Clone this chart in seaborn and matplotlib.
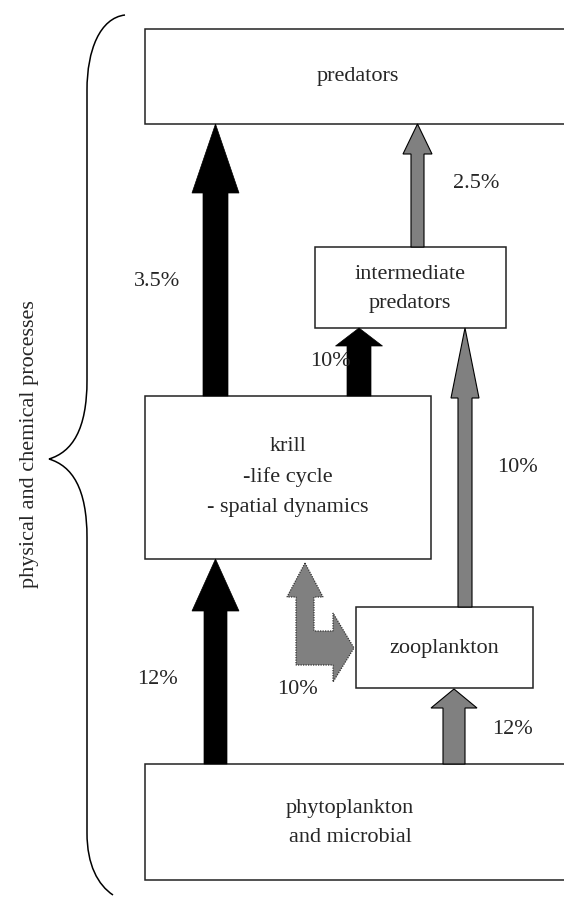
import matplotlib
matplotlib.use("Agg")
import matplotlib.pyplot as plt
import seaborn as sns
from matplotlib.patches import Rectangle, Polygon, PathPatch
from matplotlib.path import Path

# diagram content
box_names = ["predators", "intermediate\npredators", "krill\n-life cycle\n- spatial dynamics",
             "zooplankton", "phytoplankton\nand microbial"]
flow_labels = ["3.5%", "2.5%", "10%", "10%", "12%", "10%", "12%"]
side_label = "physical and chemical processes"

# layout in pixel units (x right, y down): left, top, right, bottom
box_rects = [(145, 29, 580, 124), (315, 247, 506, 328), (145, 396, 431, 559),
             (356, 607, 533, 688), (145, 764, 580, 880)]
box_text_pos = [(358, 76), (410, 289), (288, 477), (444, 648), (350, 823)]
flow_text_pos = [(157, 281), (476, 184), (330, 361), (517, 468), (157, 679), (297, 690), (512, 730)]

# straight up arrows: centre x, bottom y, tip y, shaft width, head width, head length, filled black?
up_arrows = [
    (215.5, 396, 124, 25, 47, 69, True),
    (359, 396, 328, 24, 47, 18, True),
    (215.5, 764, 559, 23, 47, 52, True),
    (417.5, 247, 124, 13, 29, 30, False),
    (465, 607, 328, 14, 28, 70, False),
    (454, 764, 689, 22, 46, 19, False),
]

W, H = 564, 897
sns.set_theme(style="white")
plt.rcParams["font.family"] = ["Liberation Serif", "DejaVu Serif"]

fig = plt.figure(figsize=(W / 100, H / 100), dpi=100)
ax = fig.add_axes([0, 0, 1, 1])
ax.set_xlim(0, W)
ax.set_ylim(H, 0)
ax.axis("off")

grey = "#808080"
fs = 16

for (l, t, r, b), name, (tx, ty) in zip(box_rects, box_names, box_text_pos):
    ax.add_patch(Rectangle((l, t), r - l, b - t, facecolor="white", edgecolor="#222222", lw=1.1, zorder=1))
    ax.text(tx, ty, name, ha="center", va="center", fontsize=fs, linespacing=1.75, zorder=3)


def up_arrow(cx, yb, yt, sw, hw, hl, black):
    hb = yt + hl
    pts = [(cx - sw / 2, yb), (cx - sw / 2, hb), (cx - hw / 2, hb), (cx, yt),
           (cx + hw / 2, hb), (cx + sw / 2, hb), (cx + sw / 2, yb)]
    if black:
        ax.add_patch(Polygon(pts, closed=True, facecolor="black", edgecolor="black", lw=0.5, zorder=2))
    else:
        ax.add_patch(Polygon(pts, closed=True, facecolor=grey, edgecolor="black", lw=0.8, zorder=2))


for a in up_arrows:
    up_arrow(*a)

# L-shaped dotted arrow krill <-> zooplankton
l_pts = [(305, 563), (323, 597), (314, 597), (314, 631), (333, 631), (333, 613), (354, 648),
         (333, 682), (333, 665), (296, 665), (296, 597), (287, 597)]
ax.add_patch(Polygon(l_pts, closed=True, facecolor=grey, edgecolor="#333333", lw=0.9,
                     linestyle=(0, (1, 1)), zorder=2))

for lab, (tx, ty) in zip(flow_labels, flow_text_pos):
    ax.text(tx, ty, lab, ha="center", va="center", fontsize=fs, zorder=3)

# curly brace on the left
verts = [(125, 15), (100, 18), (87, 50), (87, 90),
         (87, 380),
         (87, 430), (72, 452), (49, 459),
         (72, 466), (87, 488), (87, 538),
         (87, 833),
         (87, 865), (98, 885), (113, 895)]
codes = [Path.MOVETO, Path.CURVE4, Path.CURVE4, Path.CURVE4,
         Path.LINETO,
         Path.CURVE4, Path.CURVE4, Path.CURVE4,
         Path.CURVE4, Path.CURVE4, Path.CURVE4,
         Path.LINETO,
         Path.CURVE4, Path.CURVE4, Path.CURVE4]
ax.add_patch(PathPatch(Path(verts, codes), facecolor="none", edgecolor="black", lw=1.1))

ax.text(30, 444, side_label, rotation=90, ha="center", va="center", fontsize=fs)

fig.savefig("out.png", dpi=100, facecolor="white")
